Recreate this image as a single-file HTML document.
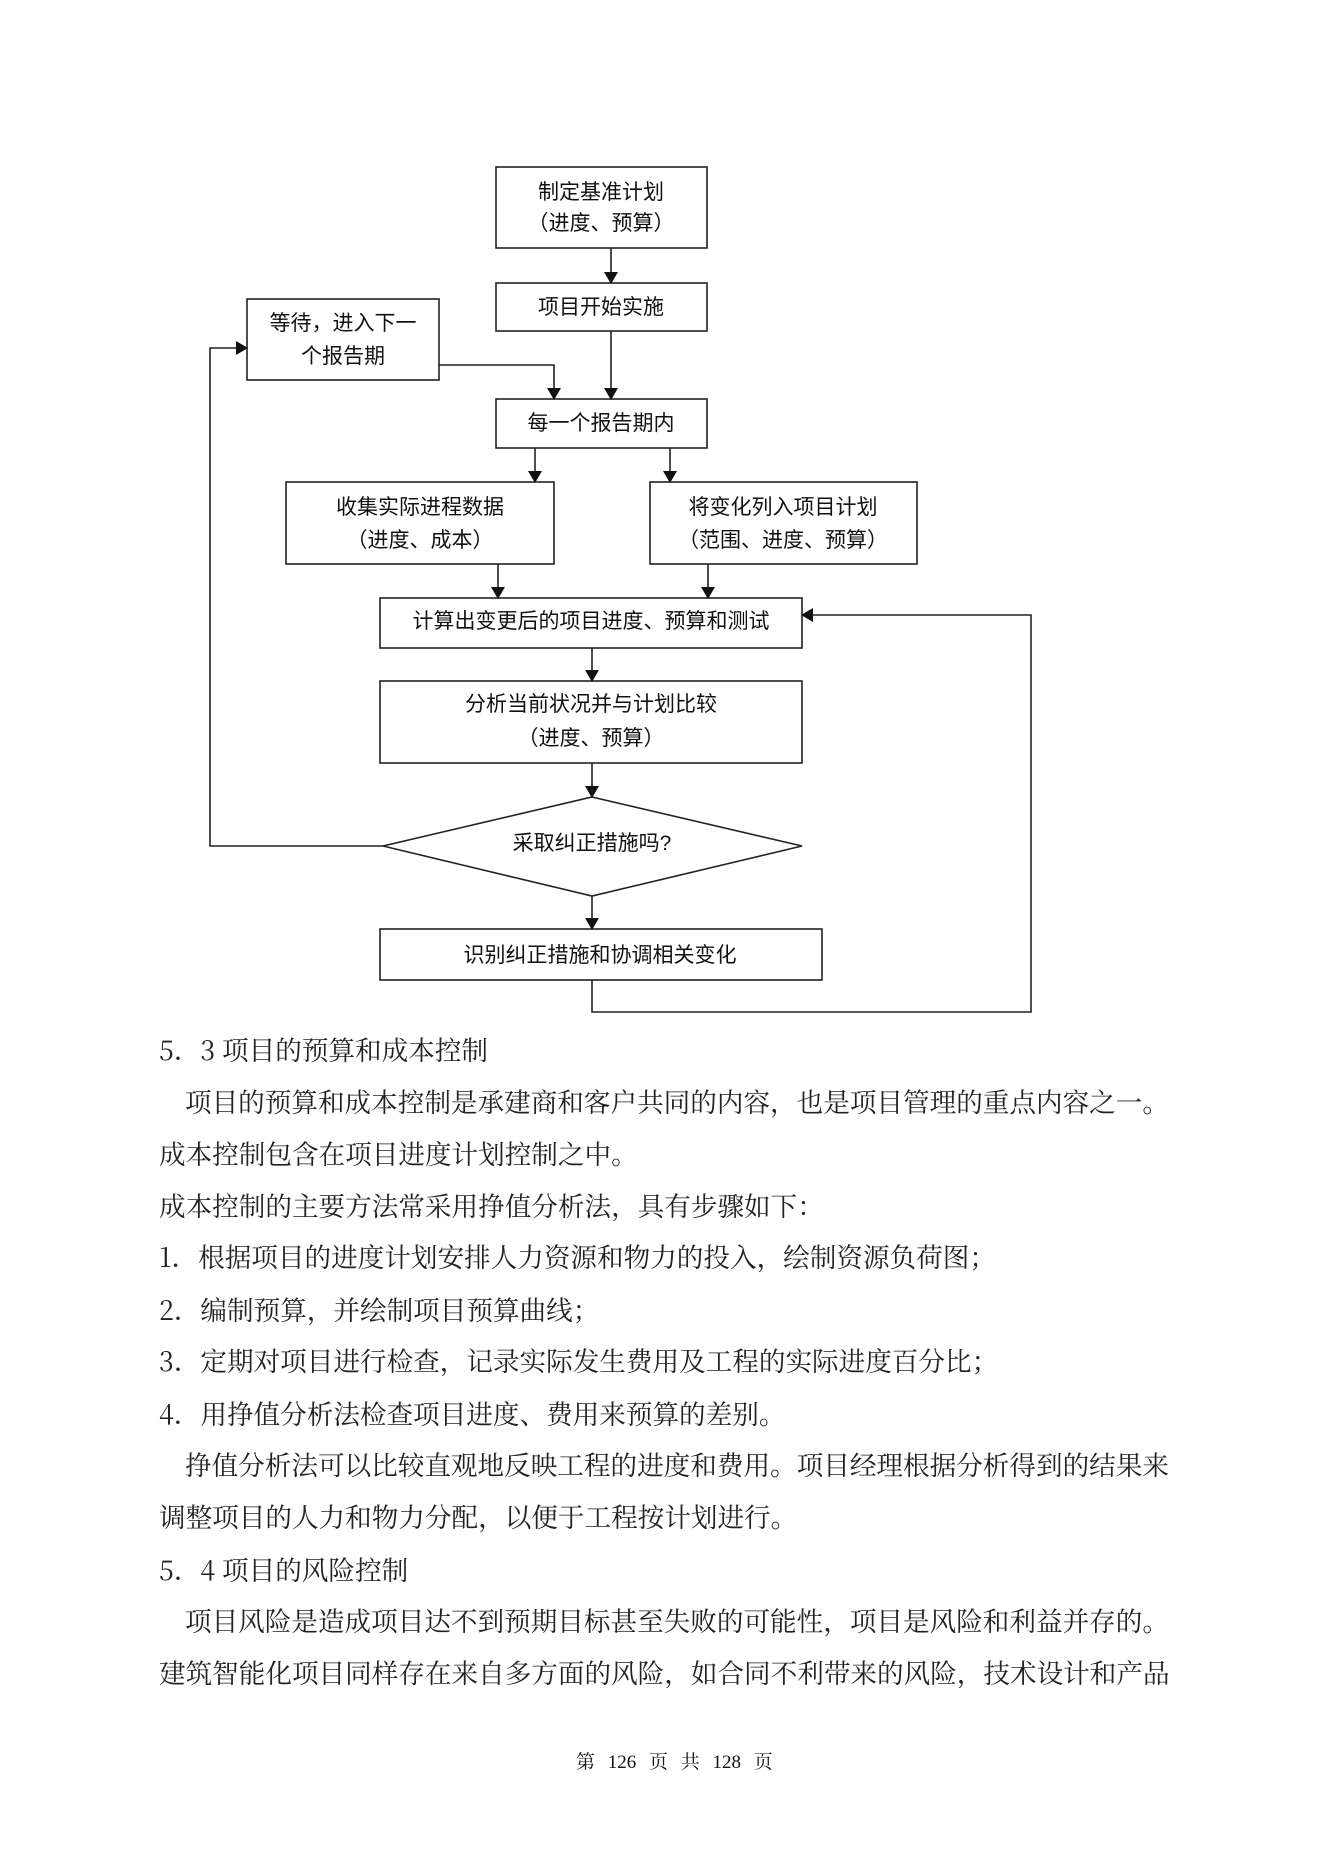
<!DOCTYPE html>
<html><head><meta charset="utf-8"><style>
body{margin:0;background:#fff;}
.pg{position:relative;width:1323px;height:1871px;overflow:hidden;background:#fff;}
.t{position:absolute;white-space:nowrap;font-family:"Noto Serif CJK SC","Liberation Serif",serif;font-size:26.6px;color:#222;line-height:30px;}
svg text{font-family:"Liberation Sans","Noto Sans CJK SC",sans-serif;font-size:21px;fill:#111;text-anchor:middle;}
</style></head><body><div class="pg">
<svg width="1323" height="1100" style="position:absolute;left:0;top:0">
<defs><marker id="a" markerWidth="12" markerHeight="14" refX="11" refY="7" orient="auto" markerUnits="userSpaceOnUse"><path d="M0,0 L12,7 L0,14 z" fill="#111"/></marker></defs>
<g fill="none" stroke="#222" stroke-width="1.6">
<rect x="496" y="167" width="211" height="81"/>
<rect x="496" y="283" width="211" height="48"/>
<rect x="247" y="299" width="192" height="81"/>
<rect x="496" y="399" width="211" height="49"/>
<rect x="286" y="482" width="268" height="82"/>
<rect x="650" y="482" width="267" height="82"/>
<rect x="380" y="598" width="422" height="50"/>
<rect x="380" y="681" width="422" height="82"/>
<polygon points="592,797 802,846 592,896 383,846"/>
<rect x="380" y="929" width="442" height="51"/>
<g marker-end="url(#a)">
<line x1="611" y1="248" x2="611" y2="283"/>
<line x1="611" y1="331" x2="611" y2="399"/>
<polyline points="439,365 554,365 554,399"/>
<line x1="535" y1="448" x2="535" y2="482"/>
<line x1="670" y1="448" x2="670" y2="482"/>
<line x1="498" y1="564" x2="498" y2="598"/>
<line x1="708" y1="564" x2="708" y2="598"/>
<line x1="592" y1="648" x2="592" y2="681"/>
<line x1="592" y1="763" x2="592" y2="797"/>
<line x1="592" y1="896" x2="592" y2="929"/>
<polyline points="383,846 210,846 210,348 247,348"/>
<polyline points="592,980 592,1012 1031,1012 1031,615 802,615"/>
</g></g>
<text x="601" y="199">制定基准计划</text>
<text x="601" y="230">（进度、预算）</text>
<text x="601" y="314">项目开始实施</text>
<text x="343" y="330">等待，进入下一</text>
<text x="343" y="363">个报告期</text>
<text x="601" y="430">每一个报告期内</text>
<text x="420" y="514">收集实际进程数据</text>
<text x="420" y="547">（进度、成本）</text>
<text x="783" y="514">将变化列入项目计划</text>
<text x="783" y="547">（范围、进度、预算）</text>
<text x="591" y="628">计算出变更后的项目进度、预算和测试</text>
<text x="591" y="711">分析当前状况并与计划比较</text>
<text x="591" y="745">（进度、预算）</text>
<text x="592" y="850">采取纠正措施吗?</text>
<text x="600" y="962">识别纠正措施和协调相关变化</text>
</svg>
<div class="t" style="left:159px;top:1034px">5．3 项目的预算和成本控制</div>
<div class="t" style="left:185px;top:1086px">项目的预算和成本控制是承建商和客户共同的内容，也是项目管理的重点内容之一。</div>
<div class="t" style="left:159px;top:1138px">成本控制包含在项目进度计划控制之中。</div>
<div class="t" style="left:159px;top:1190px">成本控制的主要方法常采用挣值分析法，具有步骤如下：</div>
<div class="t" style="left:159px;top:1241px">1．根据项目的进度计划安排人力资源和物力的投入，绘制资源负荷图；</div>
<div class="t" style="left:159px;top:1294px">2．编制预算，并绘制项目预算曲线；</div>
<div class="t" style="left:159px;top:1345px">3．定期对项目进行检查，记录实际发生费用及工程的实际进度百分比；</div>
<div class="t" style="left:159px;top:1398px">4．用挣值分析法检查项目进度、费用来预算的差别。</div>
<div class="t" style="left:185px;top:1449px">挣值分析法可以比较直观地反映工程的进度和费用。项目经理根据分析得到的结果来</div>
<div class="t" style="left:159px;top:1501px">调整项目的人力和物力分配，以便于工程按计划进行。</div>
<div class="t" style="left:159px;top:1554px">5．4 项目的风险控制</div>
<div class="t" style="left:185px;top:1605px">项目风险是造成项目达不到预期目标甚至失败的可能性，项目是风险和利益并存的。</div>
<div class="t" style="left:159px;top:1657px">建筑智能化项目同样存在来自多方面的风险，如合同不利带来的风险，技术设计和产品</div>
<div class="t" style="left:576px;top:1748px;font-family:'Liberation Serif','Noto Serif CJK SC',serif;font-size:19px;color:#111;word-spacing:8px;">第 126 页 共 128 页</div>
</div></body></html>
